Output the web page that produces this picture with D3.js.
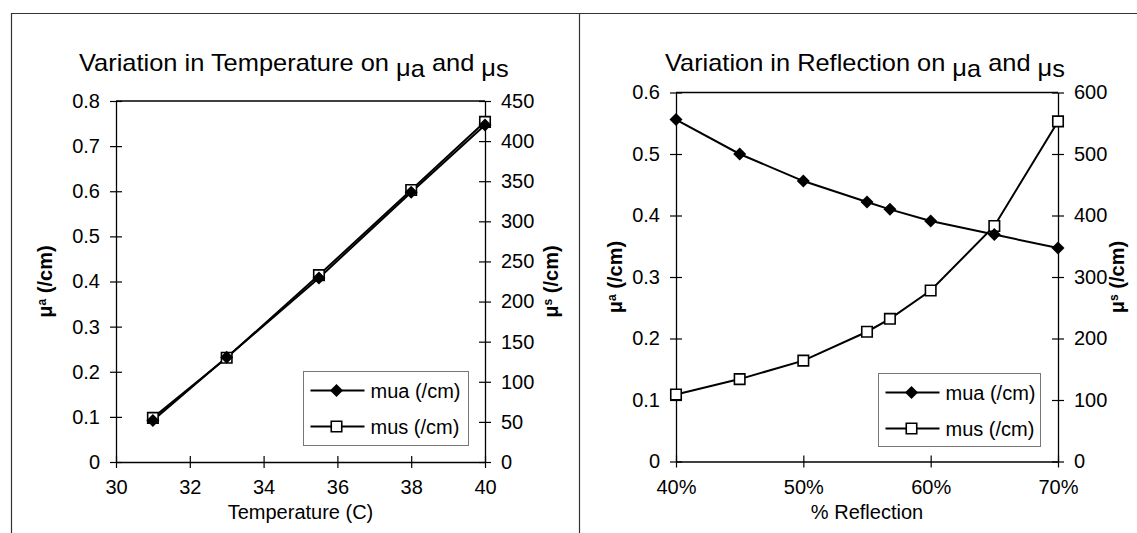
<!DOCTYPE html>
<html><head><meta charset="utf-8">
<script src="https://cdn.jsdelivr.net/npm/d3@7"></script>
<style>
html,body{margin:0;padding:0;background:#fff;}
svg{display:block;}
text{font-family:"Liberation Sans",Arial,sans-serif;fill:#000;}
</style></head>
<body>
<svg id="c" width="1137" height="533"></svg>
<script>
// ---- data ----
const tempX = [31, 33, 35.5, 38, 40];
const tempMua = [0.092, 0.232, 0.408, 0.598, 0.747];
const tempMus = [55, 130, 233, 339, 424];
const tempTicksX = [30, 32, 34, 36, 38, 40];
const tempTicksL = [0, 0.1, 0.2, 0.3, 0.4, 0.5, 0.6, 0.7, 0.8];
const tempTicksR = [0, 50, 100, 150, 200, 250, 300, 350, 400, 450];

const reflX = [0.40, 0.45, 0.50, 0.55, 0.568, 0.60, 0.65, 0.70];
const reflMua = [0.556, 0.500, 0.456, 0.422, 0.410, 0.391, 0.369, 0.347];
const reflMus = [109, 134, 164, 211, 232, 278, 383, 553];
const reflTicksX = [0.4, 0.5, 0.6, 0.7];
const reflTicksL = [0, 0.1, 0.2, 0.3, 0.4, 0.5, 0.6];
const reflTicksR = [0, 100, 200, 300, 400, 500, 600];

const seriesNames = ["mua (/cm)", "mus (/cm)"];

const svg = d3.select("#c");

// panel frame lines
svg.append("line").attr("x1",11).attr("x2",1137).attr("y1",13.5).attr("y2",13.5).attr("stroke","#333").attr("stroke-width",1.2);
svg.append("line").attr("x1",11.5).attr("x2",11.5).attr("y1",13).attr("y2",533).attr("stroke","#333").attr("stroke-width",1.2);
svg.append("line").attr("x1",579.5).attr("x2",579.5).attr("y1",13).attr("y2",533).attr("stroke","#333").attr("stroke-width",1.2);

const diamondPath = "M0,-6.5L6.5,0L0,6.5L-6.5,0Z";

function drawChart(cfg){
  const g = svg.append("g");
  const x = d3.scaleLinear().domain(cfg.xDomain).range([cfg.x0, cfg.x1]);
  const yL = d3.scaleLinear().domain(cfg.yLDomain).range([cfg.y0, cfg.y1]);
  const yR = d3.scaleLinear().domain(cfg.yRDomain).range([cfg.y0, cfg.y1]);

  // frame top
  g.append("line").attr("x1",cfg.x0).attr("x2",cfg.x1).attr("y1",cfg.y1).attr("y2",cfg.y1)
    .attr("stroke","#000").attr("stroke-width",1.3);

  const fs = "20px";
  const ax = g.append("g").attr("transform",`translate(0,${cfg.y0})`)
    .call(d3.axisBottom(x).tickValues(cfg.xTicks).tickFormat(cfg.xFmt).tickSize(6).tickSizeOuter(0).tickPadding(14));
  const ayl = g.append("g").attr("transform",`translate(${cfg.x0},0)`)
    .call(d3.axisLeft(yL).tickValues(cfg.yLTicks).tickFormat(d3.format("")).tickSize(6).tickSizeOuter(0).tickPadding(10));
  const ayr = g.append("g").attr("transform",`translate(${cfg.x1},0)`)
    .call(d3.axisRight(yR).tickValues(cfg.yRTicks).tickFormat(d3.format("")).tickSize(6).tickSizeOuter(0).tickPadding(10));
  [ax,ayl,ayr].forEach(a=>{
    a.selectAll("path.domain").attr("stroke","#000").attr("stroke-width",1.3);
    a.selectAll(".tick line").attr("stroke","#000").attr("stroke-width",1.2);
    a.selectAll(".tick text").style("font-size",fs).style("font-family","'Liberation Sans',Arial,sans-serif");
  });
  ax.selectAll(".tick line").attr("y1",-6).attr("y2",6);
  ayl.selectAll(".tick line").attr("x1",6).attr("x2",-6);
  ayr.selectAll(".tick line").attr("x1",-6).attr("x2",6);
  ax.selectAll(".tick text").attr("dy","0.62em");

  // series lines
  const lineS = d3.line().x(d=>x(d[0])).y(d=>yR(d[1]));
  const lineA = d3.line().x(d=>x(d[0])).y(d=>yL(d[1]));
  const dS = cfg.xs.map((v,i)=>[v,cfg.mus[i]]);
  const dA = cfg.xs.map((v,i)=>[v,cfg.mua[i]]);
  g.append("path").attr("d",lineS(dS)).attr("fill","none").attr("stroke","#000").attr("stroke-width",2);
  g.append("path").attr("d",lineA(dA)).attr("fill","none").attr("stroke","#000").attr("stroke-width",2);
  const sq = d3.symbol().type(d3.symbolSquare).size(110);
  g.selectAll(".sq").data(dS).enter().append("path")
    .attr("d",sq).attr("transform",d=>`translate(${x(d[0])},${yR(d[1])})`)
    .attr("fill","#fff").attr("stroke","#000").attr("stroke-width",1.6);
  g.selectAll(".dm").data(dA).enter().append("path")
    .attr("d",diamondPath).attr("transform",d=>`translate(${x(d[0])},${yL(d[1])})`)
    .attr("fill","#000");

  // title
  const tt = g.append("text").attr("text-anchor","start").style("font-size","23px");
  tt.append("tspan").text(cfg.titlePre);
  tt.append("tspan").attr("dy",5).text("\u03bc");
  tt.append("tspan").attr("dy",1).text("a");
  tt.append("tspan").attr("dy",-6).text(" and ");
  tt.append("tspan").attr("dy",5).text("\u03bc");
  tt.append("tspan").attr("dy",1).text("s");
  const w = tt.node().getComputedTextLength();
  const sx = cfg.titleW / w;
  tt.attr("transform",`translate(${cfg.titleCx - cfg.titleW/2},${cfg.titleY}) scale(${sx},1)`);

  // x axis label
  g.append("text").attr("x",(cfg.x0+cfg.x1)/2).attr("y",cfg.xLabY).attr("text-anchor","middle")
    .style("font-size","20px").text(cfg.xLabel);

  // y labels
  function yLabel(cx, sub){
    const t = g.append("text").attr("transform",`translate(${cx},${(cfg.y0+cfg.y1)/2}) rotate(-90)`)
      .attr("text-anchor","middle").style("font-size","20px").style("font-weight","bold");
    t.append("tspan").text("\u03bc");
    t.append("tspan").attr("dy",-6).style("font-size","12px").text(sub);
    t.append("tspan").attr("dy",6).text(" (/cm)");
  }
  yLabel(cfg.yLabLX, "a");
  yLabel(cfg.yLabRX, "s");

  // legend
  const L = cfg.leg;
  const lg = g.append("g");
  lg.append("rect").attr("x",L.x).attr("y",L.y).attr("width",L.w).attr("height",L.h)
    .attr("fill","#fff").attr("stroke","#777").attr("stroke-width",1);
  seriesNames.forEach((nm,i)=>{
    const ry = L.y + 19 + i*36;
    lg.append("line").attr("x1",L.x+7).attr("x2",L.x+61).attr("y1",ry).attr("y2",ry).attr("stroke","#000").attr("stroke-width",2);
    if(i===0){
      lg.append("path").attr("d",diamondPath).attr("transform",`translate(${L.x+33},${ry})`).attr("fill","#000");
    } else {
      lg.append("path").attr("d",sq).attr("transform",`translate(${L.x+33},${ry})`).attr("fill","#fff").attr("stroke","#000").attr("stroke-width",1.6);
    }
    lg.append("text").attr("x",L.x+67).attr("y",ry+7).style("font-size","20px").text(nm);
  });
}

drawChart({
  xDomain:[30,40], yLDomain:[0,0.8], yRDomain:[0,450],
  x0:116, x1:485, y0:462, y1:101,
  xTicks:tempTicksX, yLTicks:tempTicksL, yRTicks:tempTicksR, xFmt:d3.format(""),
  xs:tempX, mua:tempMua, mus:tempMus,
  titlePre:"Variation in Temperature on ", titleCx:294, titleW:430, titleY:71,
  xLabel:"Temperature (C)", xLabY:519,
  yLabLX:52, yLabRX:558,
  leg:{x:303.5, y:371.5, w:165, h:74}
});
drawChart({
  xDomain:[0.4,0.7], yLDomain:[0,0.6], yRDomain:[0,600],
  x0:676, x1:1058, y0:461.5, y1:92.5,
  xTicks:reflTicksX, yLTicks:reflTicksL, yRTicks:reflTicksR, xFmt:d3.format(".0%"),
  xs:reflX, mua:reflMua, mus:reflMus,
  titlePre:"Variation in Reflection on ", titleCx:865, titleW:400, titleY:71,
  xLabel:"% Reflection", xLabY:519,
  yLabLX:622, yLabRX:1124,
  leg:{x:878.5, y:373.5, w:162, h:73}
});
</script>
</body></html>
